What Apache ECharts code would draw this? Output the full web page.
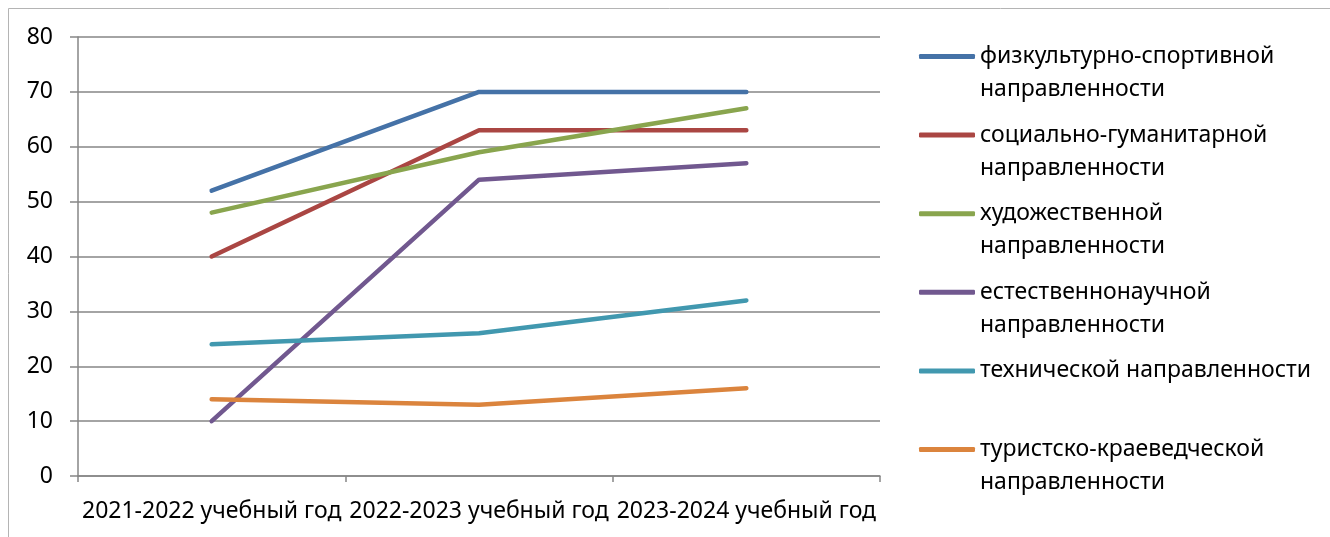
<!DOCTYPE html>
<html>
<head>
<meta charset="UTF-8">
<title>Направленности по учебным годам</title>
<script src="https://cdn.jsdelivr.net/npm/echarts@6/dist/echarts.min.js"></script>
<style>
  html, body { margin: 0; padding: 0; background: #fff; }
</style>
</head>
<body>
<div id="main" style="width:1330px;height:537px;"></div>
<script type="text/javascript">
// категории (учебные годы)
var years = ['2021-2022 учебный год', '2022-2023 учебный год', '2023-2024 учебный год'];
// значения по направленностям
var sport    = [52, 70, 70];
var social   = [40, 63, 63];
var art      = [48, 59, 67];
var science  = [10, 54, 57];
var tech     = [24, 26, 32];
var tourism  = [14, 13, 16];
var seriesNames = [
  'физкультурно-спортивной\nнаправленности',
  'социально-гуманитарной\nнаправленности',
  'художественной\nнаправленности',
  'естественнонаучной\nнаправленности',
  'технической направленности\n',
  'туристско-краеведческой\nнаправленности'
];
var seriesData = [sport, social, art, science, tech, tourism];
var colors = ['#4572A7', '#AA4643', '#89A54E', '#71588F', '#4198AF', '#DB843D'];
var yTicks = [0, 10, 20, 30, 40, 50, 60, 70, 80];

var font = '"Noto Sans", sans-serif';
var chart = echarts.init(document.getElementById('main'));

chart.setOption({
  backgroundColor: '#fff',
  animation: false,
  color: colors,
  textStyle: { fontFamily: font },
  graphic: [{
    type: 'rect',
    shape: { x: 8.5, y: 8.5, width: 1400, height: 600 },
    style: { fill: 'none', stroke: '#b4b4b4', lineWidth: 1 },
    silent: true
  }],
  grid: { left: 78, right: 450, top: 37, bottom: 61 },
  legend: {
    orient: 'vertical',
    left: 919,
    top: 7,
    padding: 0,
    itemGap: -20.4,
    itemWidth: 56,
    itemHeight: 5,
    icon: 'roundRect',
    data: seriesNames,
    // пустая строка сверху, чтобы значок стоял напротив первой строки
    formatter: function (name) { return '\n' + name; },
    textStyle: {
      fontFamily: font,
      fontSize: 23,
      color: '#000',
      lineHeight: 33
    }
  },
  xAxis: {
    type: 'category',
    data: years,
    boundaryGap: true,
    axisLine: { lineStyle: { color: '#868686', width: 1.5 } },
    axisTick: { show: true, length: 6, lineStyle: { color: '#868686', width: 1.5 } },
    axisLabel: { color: '#000', fontSize: 23, margin: 24, interval: 0, fontFamily: font },
    splitLine: { show: false }
  },
  yAxis: {
    type: 'value',
    min: yTicks[0],
    max: yTicks[yTicks.length - 1],
    interval: 10,
    axisLine: { show: true, lineStyle: { color: '#868686', width: 1.5 } },
    axisTick: { show: true, length: 8, lineStyle: { color: '#868686', width: 1.5 } },
    axisLabel: { color: '#000', fontSize: 23, margin: 25, fontFamily: font },
    splitLine: { show: true, lineStyle: { color: '#868686', width: 1.5 } }
  },
  series: seriesNames.map(function (name, i) {
    return {
      name: name,
      type: 'line',
      data: seriesData[i],
      symbol: 'none',
      lineStyle: { width: 4.5, color: colors[i], cap: 'round', join: 'round' },
      itemStyle: { color: colors[i] }
    };
  })
});
</script>
</body>
</html>
